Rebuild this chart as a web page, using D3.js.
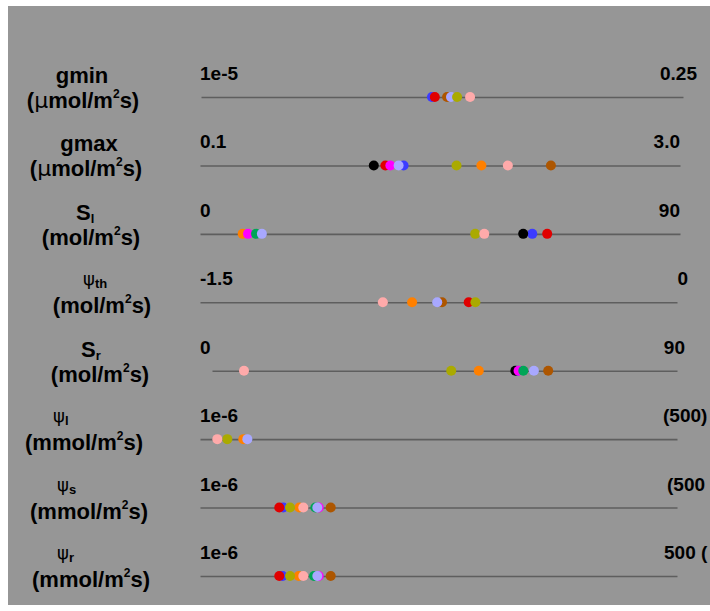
<!DOCTYPE html>
<html>
<head>
<meta charset="utf-8">
<script src="https://cdn.jsdelivr.net/npm/d3@7"></script>
<style>
  html, body { margin: 0; padding: 0; background: #ffffff; }
  svg { display: block; }
</style>
</head>
<body>
<svg id="chart" width="710" height="611"></svg>
<script>
// Parameter ranges, one row per parameter
const paramNames = ["gmin", "gmax", "Sl", "psi_th", "Sr", "psi_l", "psi_s", "psi_r"];
const rangeLow   = [1e-5, 0.1, 0, -1.5, 0, 1e-6, 1e-6, 1e-6];
const rangeHigh  = [0.25, 3.0, 90, 0, 90, 500, 500, 500];
const scaleKinds = ["log", "linear", "linear", "linear", "linear", "log", "log", "log"];
const lowLabels  = ["1e-5", "0.1", "0", "-1.5", "0", "1e-6", "1e-6", "1e-6"];
const highLabels = ["0.25", "3.0", "90", "0", "90", "(500)", "(500", "500 ("];
const unitLabels = ["(\u03bcmol/m\u00b2s)", "(\u03bcmol/m\u00b2s)", "(mol/m\u00b2s)", "(mol/m\u00b2s)",
                    "(mol/m\u00b2s)", "(mmol/m\u00b2s)", "(mmol/m\u00b2s)", "(mmol/m\u00b2s)"];

// Estimated parameter values for each model (null = not used by that model)
//                gmin     gmax  Sl    psi_th  Sr    psi_l    psi_s    psi_r
const blue     = [1.28e-3, 1.33, 62.3, null,   59.9, null,    3.30e-5, 3.20e-5];
const black    = [null,    1.15, 60.6, null,   59.5, null,    null,    null];
const red      = [1.36e-3, 1.22, 65.1, -0.655, null, null,    2.79e-5, 2.79e-5];
const brown    = [1.76e-3, 2.22, null, -0.739, 65.7, null,    2.42e-4, 2.42e-4];
const orange   = [null,    1.80, 8.0,  -0.833, 52.6, 6.17e-6, 6.48e-5, 6.30e-5];
const magenta  = [null,    1.25, 9.0,  null,   60.1, null,    1.46e-4, 1.46e-4];
const green    = [null,    null, 10.5, null,   61.0, null,    1.27e-4, 1.20e-4];
const lavender = [1.91e-3, 1.30, 11.6, -0.754, 63.0, 7.30e-6, 1.38e-4, 1.38e-4];
const olive    = [2.17e-3, 1.65, 51.6, -0.634, 47.4, 3.15e-6, 4.38e-5, 4.38e-5];
const pink     = [2.85e-3, 1.96, 53.3, -0.925, 8.3,  2.07e-6, 7.66e-5, 7.66e-5];

// Drawing order: later models sit on top
const models = [
  { name: "blue",     color: "#3c3cff", values: blue },
  { name: "black",    color: "#000000", values: black },
  { name: "red",      color: "#e00000", values: red },
  { name: "brown",    color: "#ad5600", values: brown },
  { name: "orange",   color: "#ff8000", values: orange },
  { name: "magenta",  color: "#ff00ff", values: magenta },
  { name: "green",    color: "#00a557", values: green },
  { name: "lavender", color: "#a8a8ff", values: lavender },
  { name: "olive",    color: "#aaaa00", values: olive },
  { name: "pink",     color: "#ffaaaa", values: pink }
];

const svg = d3.select("#chart");
const W = 710;

// panel background
svg.append("rect").attr("x", 8).attr("y", 6).attr("width", W - 8).attr("height", 599)
  .attr("fill", "#969696");

// row placement
const rowY = d3.scalePoint().domain(d3.range(paramNames.length)).range([97, 576]);
const lineStart = [201, 200, 200, 200, 212, 200, 200, 200];
const lineEnd   = [683, 680, 680, 677, 677, 677, 677, 677];

const scales = paramNames.map((p, i) => {
  const s = scaleKinds[i] === "log" ? d3.scaleLog() : d3.scaleLinear();
  const x0 = scaleKinds[i] === "log" ? lineStart[i] : 200;
  return s.domain([rangeLow[i], rangeHigh[i]]).range([x0, lineEnd[i]]);
});

const boldFont = "'Liberation Sans', Arial, sans-serif";

const rows = svg.append("g").selectAll("g.row")
  .data(paramNames).join("g")
  .attr("class", "row")
  .attr("transform", (d, i) => `translate(0,${rowY(i)})`);

// axis line per row, drawn with d3.axisBottom and ticks removed
rows.each(function (d, i) {
  const g = d3.select(this).append("g");
  const lineScale = d3.scaleLinear().domain([0, 1]).range([lineStart[i], lineEnd[i]]);
  g.call(d3.axisBottom(lineScale).tickValues([]).tickSizeOuter(0));
  g.select(".domain").attr("stroke", "#5e5e5e").attr("stroke-width", 1.6);
});

// range end labels
rows.append("text")
  .attr("x", 200).attr("y", -17)
  .attr("font-family", boldFont).attr("font-weight", "bold").attr("font-size", 19)
  .attr("fill", "#000")
  .text((d, i) => lowLabels[i]);

const highX = [697, 680, 680, 688, 685, 663, 667, 664];
rows.append("text")
  .attr("x", (d, i) => highX[i]).attr("y", -17)
  .attr("text-anchor", (d, i) => i < 5 ? "end" : "start")
  .attr("font-family", boldFont).attr("font-weight", "bold").attr("font-size", 19)
  .attr("fill", "#000")
  .text((d, i) => highLabels[i]);

// unit labels with superscript 2
const unitX = [83, 86, 91, 102, 100, 84, 89, 91];
rows.each(function (d, i) {
  const t = d3.select(this).append("text")
    .attr("x", unitX[i]).attr("y", 11)
    .attr("text-anchor", "middle")
    .attr("font-family", boldFont).attr("font-weight", "bold").attr("font-size", 22)
    .attr("fill", "#000");
  const [pre, post] = unitLabels[i].split("\u00b2");
  const mu = pre.indexOf("\u03bc");
  if (mu >= 0) {
    t.append("tspan").text(pre.slice(0, mu));
    t.append("tspan").attr("font-family", "'DejaVu Sans', sans-serif")
      .attr("font-weight", "normal").text("\u03bc");
    t.append("tspan").text(pre.slice(mu + 1));
  } else {
    t.append("tspan").text(pre);
  }
  t.append("tspan").attr("font-size", 12).attr("dy", -10).text("2");
  t.append("tspan").attr("dy", 10).text(post);
});

// parameter names
const titleMain = ["gmin", "gmax", "S", "\u03c8", "S", "\u03c8", "\u03c8", "\u03c8"];
const titleSub  = ["", "", "l", "th", "r", "l", "s", "r"];
const titleX    = [82, 89, 76, 83, 81, 53, 57, 57];
rows.each(function (d, i) {
  const isPsi = titleMain[i] === "\u03c8";
  const t = d3.select(this).append("text")
    .attr("x", titleX[i]).attr("y", isPsi ? -17 : -14)
    .attr("text-anchor", titleSub[i] ? "start" : "middle")
    .attr("fill", "#000");
  t.append("tspan")
    .attr("font-family", isPsi ? "'DejaVu Sans', sans-serif" : boldFont)
    .attr("font-weight", isPsi ? "normal" : "bold")
    .attr("font-size", isPsi ? 18 : 22)
    .text(titleMain[i]);
  if (titleSub[i]) {
    t.append("tspan")
      .attr("font-family", boldFont).attr("font-weight", "bold")
      .attr("font-size", 13).attr("dy", 3)
      .text(titleSub[i]);
  }
});

// model dots
models.forEach(m => {
  rows.filter((d, i) => m.values[i] != null)
    .append("circle")
    .attr("cx", d => {
      const i = paramNames.indexOf(d);
      return scales[i](m.values[i]);
    })
    .attr("cy", 0)
    .attr("r", 5)
    .attr("fill", m.color);
});
</script>
</body>
</html>
